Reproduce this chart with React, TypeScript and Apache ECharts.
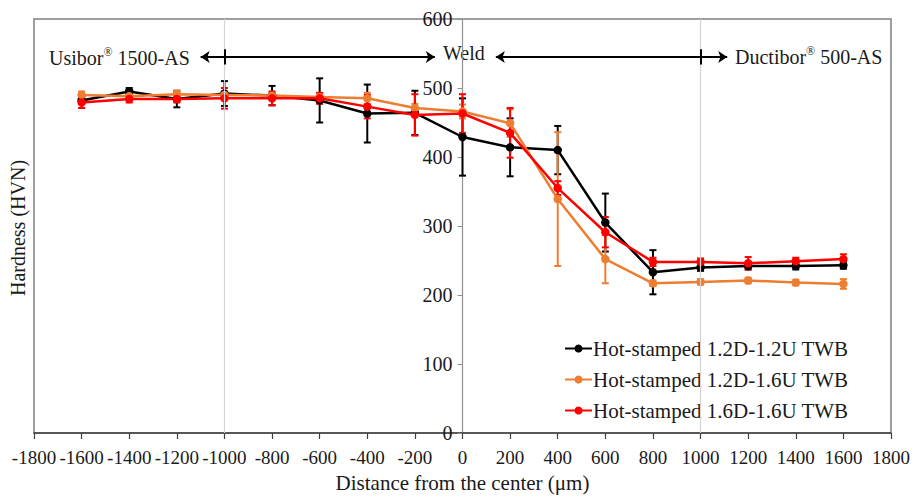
import React, { useEffect, useRef } from "react";
import * as echarts from "echarts";

const xValues = [-1600, -1400, -1200, -1000, -800, -600, -400, -200, 0, 200, 400, 600, 800, 1000, 1200, 1400, 1600];
const hvBlack = [482, 495, 484, 492, 489, 482, 463, 464, 429, 414, 410, 305, 233, 240, 242, 242, 243];
const errBlack = [5, 5, 12, 18, 14, 32, 42, 32, 56, 42, 35, 42, 32, 5, 5, 5, 5];
const hvOrange = [490, 488, 491, 490, 489, 487, 485, 471, 466, 449, 339, 252, 217, 219, 221, 218, 216];
const errOrange = [5, 4, 5, 5, 4, 5, 8, 6, 10, 20, 97, 35, 4, 4, 4, 4, 7];
const hvRed = [479, 484, 484, 485, 485, 485, 473, 461, 463, 435, 355, 291, 248, 248, 246, 249, 252];
const errRed = [8, 5, 5, 15, 10, 8, 17, 30, 28, 36, 10, 22, 6, 5, 9, 5, 7];

const seriesNames = ["Hot-stamped 1.2D-1.2U TWB", "Hot-stamped 1.2D-1.6U TWB", "Hot-stamped 1.6D-1.6U TWB"];
const seriesColors = ["#000000", "#ED7D31", "#FF0000"];

const FONT = "Liberation Serif";
const GRID_LEFT = 34;
const GRID_RIGHT = 27;
const CHART_W = 918;
const X_MIN = -1800;
const X_MAX = 1800;

function errorSeries(values: number[], errs: number[], color: string) {
  return {
    type: "custom",
    silent: true,
    z: 3,
    data: xValues.map((x, i) => [x, values[i] - errs[i], values[i] + errs[i]]),
    encode: { x: 0, y: [1, 2] },
    renderItem: (params: any, api: any) => {
      const lo = api.coord([api.value(0), api.value(1)]);
      const hi = api.coord([api.value(0), api.value(2)]);
      const w = 3.5;
      const style = { stroke: color, lineWidth: 2 };
      return {
        type: "group",
        children: [
          { type: "line", shape: { x1: lo[0], y1: lo[1], x2: hi[0], y2: hi[1] }, style },
          { type: "line", shape: { x1: lo[0] - w, y1: lo[1], x2: lo[0] + w, y2: lo[1] }, style },
          { type: "line", shape: { x1: hi[0] - w, y1: hi[1], x2: hi[0] + w, y2: hi[1] }, style },
        ],
      };
    },
  };
}

function lineSeries(name: string, values: number[], color: string) {
  return {
    type: "line",
    name,
    data: xValues.map((x, i) => [x, values[i]]),
    symbol: "circle",
    symbolSize: 8.5,
    color,
    z: 4,
    lineStyle: { width: 2.5, color },
    itemStyle: { color },
  };
}

export default function App() {
  const ref = useRef<HTMLDivElement>(null);
  useEffect(() => {
    document.body.style.margin = "0";
    const chart = echarts.init(ref.current!, null, { renderer: "svg" });
    const axisFont = { fontFamily: FONT, fontSize: 19, color: "#1a1a1a" };
    const gridW = CHART_W - GRID_LEFT - GRID_RIGHT;
    const zeroOffset = -((0 - X_MIN) / (X_MAX - X_MIN)) * gridW;
    chart.setOption({
      animation: false,
      backgroundColor: "#ffffff",
      textStyle: { fontFamily: FONT },
      grid: {
        left: GRID_LEFT,
        right: GRID_RIGHT,
        top: 19,
        bottom: 65,
        show: true,
        borderColor: "#808080",
        borderWidth: 1.5,
        outerBoundsMode: "none",
      },
      legend: {
        data: seriesNames,
        orient: "vertical",
        left: 559,
        top: 333,
        itemWidth: 27,
        itemHeight: 10,
        itemGap: 10,
        textStyle: { fontFamily: FONT, fontSize: 21, color: "#1a1a1a", padding: [0, 0, 0, -4] },
      },
      xAxis: {
        type: "value",
        min: X_MIN,
        max: X_MAX,
        interval: 200,
        name: "Distance from the center (μm)",
        nameLocation: "middle",
        nameGap: 39,
        nameTextStyle: { fontFamily: FONT, fontSize: 21, color: "#1a1a1a" },
        axisLine: { show: true, onZero: true, lineStyle: { color: "#404040", width: 1.5 } },
        axisTick: { show: true, length: 6, lineStyle: { color: "#404040", width: 1.2 } },
        axisLabel: {
          ...axisFont,
          margin: 15,
          showMinLabel: true,
          showMaxLabel: true,
          hideOverlap: false,
          formatter: (v: number) => String(v),
        },
        splitLine: { show: false },
      },
      yAxis: {
        type: "value",
        min: 0,
        max: 600,
        interval: 100,
        position: "left",
        offset: zeroOffset,
        axisLine: { show: true, onZero: false, lineStyle: { color: "#909090", width: 1.2 } },
        axisTick: { show: true, length: 5, lineStyle: { color: "#909090" } },
        axisLabel: { ...axisFont, fontSize: 20, margin: 10, formatter: (v: number) => String(v) },
        splitLine: { show: false },
      },
      graphic: [
        {
          type: "text",
          x: 18,
          y: 228,
          rotation: Math.PI / 2,
          style: {
            text: "Hardness (HVN)",
            font: `20px '${FONT}'`,
            fill: "#1a1a1a",
            align: "center",
            verticalAlign: "middle",
          },
        },
        {
          type: "text",
          x: 49,
          y: 57,
          style: {
            text: "{a|Usibor}{s|®}{a| 1500-AS}",
            fill: "#1a1a1a",
            align: "left",
            verticalAlign: "middle",
            rich: {
              a: { fontFamily: FONT, fontSize: 20, lineHeight: 22, verticalAlign: "bottom" },
              s: { fontFamily: FONT, fontSize: 12, lineHeight: 22, verticalAlign: "top" },
            },
          },
        },
        {
          type: "text",
          x: 443,
          y: 53,
          style: {
            text: "Weld",
            font: `20px '${FONT}'`,
            fill: "#1a1a1a",
            align: "left",
            verticalAlign: "middle",
          },
        },
        {
          type: "text",
          x: 735,
          y: 56,
          style: {
            text: "{a|Ductibor}{s|®}{a| 500-AS}",
            fill: "#1a1a1a",
            align: "left",
            verticalAlign: "middle",
            rich: {
              a: { fontFamily: FONT, fontSize: 20, lineHeight: 22, verticalAlign: "bottom" },
              s: { fontFamily: FONT, fontSize: 12, lineHeight: 22, verticalAlign: "top" },
            },
          },
        },
      ],
      series: [
        {
          type: "line",
          name: "gridlines",
          data: [[-1000, 0]],
          showSymbol: false,
          symbolSize: 0,
          silent: true,
          z: 1,
          lineStyle: { opacity: 0 },
          markLine: {
            silent: true,
            symbol: ["none", "none"],
            label: { show: false },
            lineStyle: { color: "#d4d4d4", width: 1.2, type: "solid" },
            emphasis: { disabled: true },
            data: [{ xAxis: -1000 }, { xAxis: 1000 }],
          },
        },
        {
          type: "line",
          name: "arrows",
          data: [[-1000, 0]],
          showSymbol: false,
          symbolSize: 0,
          silent: true,
          z: 5,
          lineStyle: { opacity: 0 },
          markLine: {
            silent: true,
            symbol: ["arrow", "arrow"],
            symbolSize: 9,
            label: { show: false },
            lineStyle: { color: "#000000", width: 2, type: "solid" },
            emphasis: { disabled: true },
            data: [
              [{ coord: [-1100, 545] }, { coord: [-116, 545] }],
              [{ coord: [140, 545] }, { coord: [1112, 545] }],
              [{ coord: [-1000, 534], symbol: "none" }, { coord: [-1000, 556], symbol: "none" }],
              [{ coord: [1000, 534], symbol: "none" }, { coord: [1000, 556], symbol: "none" }],
            ],
          },
        },
        errorSeries(hvBlack, errBlack, seriesColors[0]),
        lineSeries(seriesNames[0], hvBlack, seriesColors[0]),
        errorSeries(hvOrange, errOrange, seriesColors[1]),
        lineSeries(seriesNames[1], hvOrange, seriesColors[1]),
        errorSeries(hvRed, errRed, seriesColors[2]),
        lineSeries(seriesNames[2], hvRed, seriesColors[2]),
      ],
    });
    return () => chart.dispose();
  }, []);
  return <div ref={ref} style={{ width: 918, height: 498 }} />;
}
